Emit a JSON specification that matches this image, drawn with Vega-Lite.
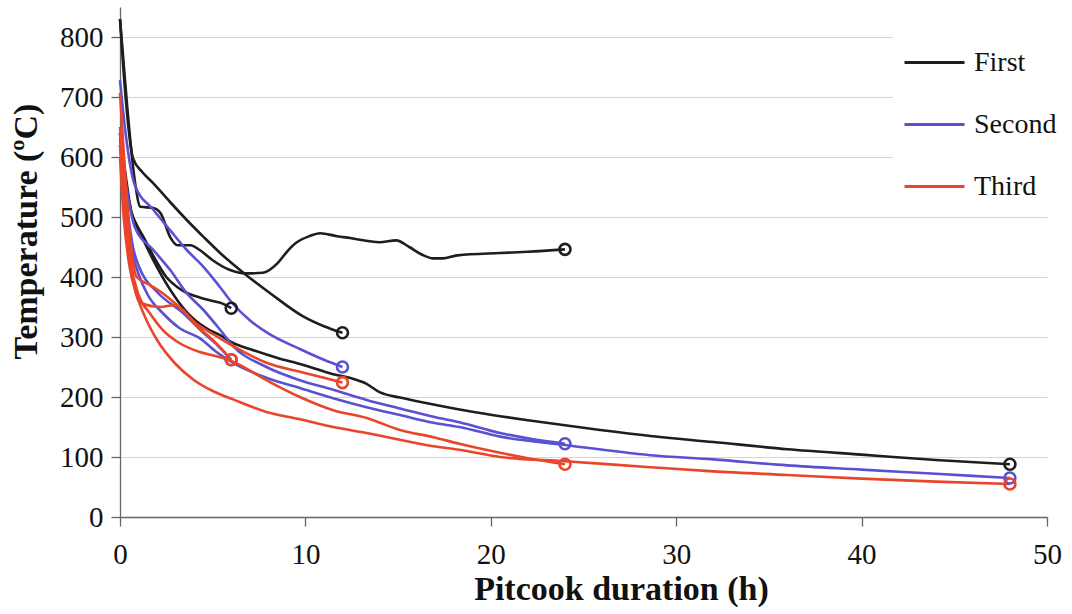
{
  "$schema": "https://vega.github.io/schema/vega-lite/v6.json",
  "autosize": "none",
  "width": 927,
  "height": 510,
  "padding": {"left": 120, "top": 7, "right": 25, "bottom": 97},
  "background": "white",
  "config": {
    "view": {"stroke": null},
    "font": "Liberation Serif",
    "axis": {
      "labelFont": "Liberation Serif",
      "titleFont": "Liberation Serif",
      "labelFontSize": 29,
      "titleFontSize": 34,
      "titleFontWeight": "bold",
      "labelColor": "#111",
      "titleColor": "#111",
      "domainColor": "#666",
      "tickColor": "#666",
      "domainWidth": 1.3,
      "tickWidth": 1.3
    }
  },
  "data": {
    "values": [
      {"series":"First","run":"F6","hours":0,"temp":640},
      {"series":"First","run":"F6","hours":0.3,"temp":560},
      {"series":"First","run":"F6","hours":0.6,"temp":510},
      {"series":"First","run":"F6","hours":0.9,"temp":487},
      {"series":"First","run":"F6","hours":1.3,"temp":465},
      {"series":"First","run":"F6","hours":1.8,"temp":435},
      {"series":"First","run":"F6","hours":2.5,"temp":400},
      {"series":"First","run":"F6","hours":3.1,"temp":383},
      {"series":"First","run":"F6","hours":3.7,"temp":372},
      {"series":"First","run":"F6","hours":4.3,"temp":366},
      {"series":"First","run":"F6","hours":5,"temp":360},
      {"series":"First","run":"F6","hours":5.5,"temp":356},
      {"series":"First","run":"F6","hours":6,"temp":348},

      {"series":"First","run":"F12","hours":0,"temp":830},
      {"series":"First","run":"F12","hours":0.3,"temp":700},
      {"series":"First","run":"F12","hours":0.7,"temp":598},
      {"series":"First","run":"F12","hours":1.2,"temp":575},
      {"series":"First","run":"F12","hours":1.8,"temp":556},
      {"series":"First","run":"F12","hours":2.7,"temp":525},
      {"series":"First","run":"F12","hours":3.6,"temp":495},
      {"series":"First","run":"F12","hours":4.5,"temp":467},
      {"series":"First","run":"F12","hours":5.4,"temp":440},
      {"series":"First","run":"F12","hours":6.7,"temp":406},
      {"series":"First","run":"F12","hours":8.1,"temp":373},
      {"series":"First","run":"F12","hours":9.9,"temp":334},
      {"series":"First","run":"F12","hours":11,"temp":318},
      {"series":"First","run":"F12","hours":12,"temp":307},

      {"series":"First","run":"F24","hours":0,"temp":830},
      {"series":"First","run":"F24","hours":0.4,"temp":680},
      {"series":"First","run":"F24","hours":0.8,"temp":560},
      {"series":"First","run":"F24","hours":1.1,"temp":517},
      {"series":"First","run":"F24","hours":1.8,"temp":515},
      {"series":"First","run":"F24","hours":2.2,"temp":506},
      {"series":"First","run":"F24","hours":2.7,"temp":467},
      {"series":"First","run":"F24","hours":3.1,"temp":453},
      {"series":"First","run":"F24","hours":3.8,"temp":453},
      {"series":"First","run":"F24","hours":4.3,"temp":445},
      {"series":"First","run":"F24","hours":5,"temp":428},
      {"series":"First","run":"F24","hours":5.9,"temp":412},
      {"series":"First","run":"F24","hours":6.8,"temp":406},
      {"series":"First","run":"F24","hours":7.7,"temp":407},
      {"series":"First","run":"F24","hours":8.5,"temp":423},
      {"series":"First","run":"F24","hours":9,"temp":442},
      {"series":"First","run":"F24","hours":9.5,"temp":457},
      {"series":"First","run":"F24","hours":10.2,"temp":468},
      {"series":"First","run":"F24","hours":10.8,"temp":473},
      {"series":"First","run":"F24","hours":11.7,"temp":468},
      {"series":"First","run":"F24","hours":12.4,"temp":465},
      {"series":"First","run":"F24","hours":14,"temp":458},
      {"series":"First","run":"F24","hours":14.9,"temp":461},
      {"series":"First","run":"F24","hours":15.6,"temp":450},
      {"series":"First","run":"F24","hours":16.3,"temp":437},
      {"series":"First","run":"F24","hours":16.9,"temp":431},
      {"series":"First","run":"F24","hours":17.4,"temp":431},
      {"series":"First","run":"F24","hours":18.2,"temp":436},
      {"series":"First","run":"F24","hours":20.5,"temp":440},
      {"series":"First","run":"F24","hours":22,"temp":442},
      {"series":"First","run":"F24","hours":24,"temp":446},

      {"series":"First","run":"F48","hours":0,"temp":640},
      {"series":"First","run":"F48","hours":0.3,"temp":570},
      {"series":"First","run":"F48","hours":0.6,"temp":510},
      {"series":"First","run":"F48","hours":1.1,"temp":473},
      {"series":"First","run":"F48","hours":2,"temp":416},
      {"series":"First","run":"F48","hours":3.1,"temp":361},
      {"series":"First","run":"F48","hours":3.9,"temp":332},
      {"series":"First","run":"F48","hours":4.8,"temp":312},
      {"series":"First","run":"F48","hours":5.4,"temp":303},
      {"series":"First","run":"F48","hours":6.1,"temp":290},
      {"series":"First","run":"F48","hours":7,"temp":280},
      {"series":"First","run":"F48","hours":8.5,"temp":265},
      {"series":"First","run":"F48","hours":9.7,"temp":255},
      {"series":"First","run":"F48","hours":11.5,"temp":238},
      {"series":"First","run":"F48","hours":12.6,"temp":230},
      {"series":"First","run":"F48","hours":13.3,"temp":222},
      {"series":"First","run":"F48","hours":14,"temp":208},
      {"series":"First","run":"F48","hours":15.1,"temp":199},
      {"series":"First","run":"F48","hours":16.5,"temp":190},
      {"series":"First","run":"F48","hours":18.7,"temp":177},
      {"series":"First","run":"F48","hours":20.5,"temp":168},
      {"series":"First","run":"F48","hours":22.3,"temp":160},
      {"series":"First","run":"F48","hours":25.9,"temp":145},
      {"series":"First","run":"F48","hours":28.6,"temp":135},
      {"series":"First","run":"F48","hours":32,"temp":125},
      {"series":"First","run":"F48","hours":36,"temp":113},
      {"series":"First","run":"F48","hours":40,"temp":104},
      {"series":"First","run":"F48","hours":44,"temp":95},
      {"series":"First","run":"F48","hours":48,"temp":88},

      {"series":"Second","run":"S6","hours":0,"temp":640},
      {"series":"Second","run":"S6","hours":0.3,"temp":540},
      {"series":"Second","run":"S6","hours":0.7,"temp":450},
      {"series":"Second","run":"S6","hours":1.1,"temp":412},
      {"series":"Second","run":"S6","hours":2,"temp":375},
      {"series":"Second","run":"S6","hours":3.4,"temp":340},
      {"series":"Second","run":"S6","hours":4.5,"temp":307},
      {"series":"Second","run":"S6","hours":5.3,"temp":285},
      {"series":"Second","run":"S6","hours":6,"temp":262},

      {"series":"Second","run":"S12","hours":0,"temp":728},
      {"series":"Second","run":"S12","hours":0.3,"temp":640},
      {"series":"Second","run":"S12","hours":0.8,"temp":553},
      {"series":"Second","run":"S12","hours":1.8,"temp":512},
      {"series":"Second","run":"S12","hours":2.7,"temp":478},
      {"series":"Second","run":"S12","hours":3.6,"temp":445},
      {"series":"Second","run":"S12","hours":4.5,"temp":417},
      {"series":"Second","run":"S12","hours":5.4,"temp":383},
      {"series":"Second","run":"S12","hours":6.1,"temp":355},
      {"series":"Second","run":"S12","hours":7,"temp":328},
      {"series":"Second","run":"S12","hours":8,"temp":306},
      {"series":"Second","run":"S12","hours":9.7,"temp":280},
      {"series":"Second","run":"S12","hours":11,"temp":262},
      {"series":"Second","run":"S12","hours":12,"temp":250},

      {"series":"Second","run":"S24","hours":0,"temp":630},
      {"series":"Second","run":"S24","hours":0.3,"temp":560},
      {"series":"Second","run":"S24","hours":0.8,"temp":483},
      {"series":"Second","run":"S24","hours":1.8,"temp":445},
      {"series":"Second","run":"S24","hours":2.7,"temp":412},
      {"series":"Second","run":"S24","hours":3.6,"temp":373},
      {"series":"Second","run":"S24","hours":4.5,"temp":345},
      {"series":"Second","run":"S24","hours":5.4,"temp":312},
      {"series":"Second","run":"S24","hours":6.1,"temp":285},
      {"series":"Second","run":"S24","hours":7.9,"temp":250},
      {"series":"Second","run":"S24","hours":9.7,"temp":228},
      {"series":"Second","run":"S24","hours":11.5,"temp":212},
      {"series":"Second","run":"S24","hours":13.3,"temp":195},
      {"series":"Second","run":"S24","hours":15.1,"temp":181},
      {"series":"Second","run":"S24","hours":16.9,"temp":167},
      {"series":"Second","run":"S24","hours":18.3,"temp":158},
      {"series":"Second","run":"S24","hours":20.5,"temp":140},
      {"series":"Second","run":"S24","hours":22,"temp":131},
      {"series":"Second","run":"S24","hours":24,"temp":122},

      {"series":"Second","run":"S48","hours":0,"temp":620},
      {"series":"Second","run":"S48","hours":0.3,"temp":520},
      {"series":"Second","run":"S48","hours":0.6,"temp":450},
      {"series":"Second","run":"S48","hours":1,"temp":405},
      {"series":"Second","run":"S48","hours":1.5,"temp":370},
      {"series":"Second","run":"S48","hours":2.3,"temp":340},
      {"series":"Second","run":"S48","hours":3.2,"temp":315},
      {"series":"Second","run":"S48","hours":4.3,"temp":298},
      {"series":"Second","run":"S48","hours":5.2,"temp":275},
      {"series":"Second","run":"S48","hours":6.1,"temp":257},
      {"series":"Second","run":"S48","hours":7.9,"temp":232},
      {"series":"Second","run":"S48","hours":9.7,"temp":215},
      {"series":"Second","run":"S48","hours":11.5,"temp":198},
      {"series":"Second","run":"S48","hours":13.3,"temp":183},
      {"series":"Second","run":"S48","hours":15.1,"temp":170},
      {"series":"Second","run":"S48","hours":16.9,"temp":157},
      {"series":"Second","run":"S48","hours":18.3,"temp":150},
      {"series":"Second","run":"S48","hours":20.5,"temp":134},
      {"series":"Second","run":"S48","hours":24,"temp":120},
      {"series":"Second","run":"S48","hours":28.6,"temp":103},
      {"series":"Second","run":"S48","hours":32,"temp":96},
      {"series":"Second","run":"S48","hours":36,"temp":86},
      {"series":"Second","run":"S48","hours":40,"temp":79},
      {"series":"Second","run":"S48","hours":44,"temp":72},
      {"series":"Second","run":"S48","hours":48,"temp":65},

      {"series":"Third","run":"T6","hours":0,"temp":650},
      {"series":"Third","run":"T6","hours":0.3,"temp":520},
      {"series":"Third","run":"T6","hours":0.6,"temp":420},
      {"series":"Third","run":"T6","hours":1.1,"temp":357},
      {"series":"Third","run":"T6","hours":2.2,"temp":350},
      {"series":"Third","run":"T6","hours":2.9,"temp":353},
      {"series":"Third","run":"T6","hours":3.4,"temp":345},
      {"series":"Third","run":"T6","hours":4,"temp":323},
      {"series":"Third","run":"T6","hours":5,"temp":295},
      {"series":"Third","run":"T6","hours":6,"temp":262},

      {"series":"Third","run":"T12","hours":0,"temp":707},
      {"series":"Third","run":"T12","hours":0.3,"temp":560},
      {"series":"Third","run":"T12","hours":0.6,"temp":450},
      {"series":"Third","run":"T12","hours":0.9,"temp":400},
      {"series":"Third","run":"T12","hours":1.6,"temp":387},
      {"series":"Third","run":"T12","hours":2.3,"temp":373},
      {"series":"Third","run":"T12","hours":3.2,"temp":350},
      {"series":"Third","run":"T12","hours":4.1,"temp":323},
      {"series":"Third","run":"T12","hours":5,"temp":305},
      {"series":"Third","run":"T12","hours":6.1,"temp":285},
      {"series":"Third","run":"T12","hours":7.9,"temp":257},
      {"series":"Third","run":"T12","hours":9.7,"temp":242},
      {"series":"Third","run":"T12","hours":11,"temp":232},
      {"series":"Third","run":"T12","hours":12,"temp":224},

      {"series":"Third","run":"T24","hours":0,"temp":620},
      {"series":"Third","run":"T24","hours":0.3,"temp":500},
      {"series":"Third","run":"T24","hours":0.6,"temp":420},
      {"series":"Third","run":"T24","hours":1,"temp":370},
      {"series":"Third","run":"T24","hours":1.6,"temp":340},
      {"series":"Third","run":"T24","hours":2.3,"temp":312},
      {"series":"Third","run":"T24","hours":3.2,"temp":290},
      {"series":"Third","run":"T24","hours":4.3,"temp":275},
      {"series":"Third","run":"T24","hours":5.2,"temp":268},
      {"series":"Third","run":"T24","hours":6,"temp":260},
      {"series":"Third","run":"T24","hours":7.9,"temp":228},
      {"series":"Third","run":"T24","hours":9.7,"temp":200},
      {"series":"Third","run":"T24","hours":11.5,"temp":178},
      {"series":"Third","run":"T24","hours":13.3,"temp":165},
      {"series":"Third","run":"T24","hours":15.1,"temp":145},
      {"series":"Third","run":"T24","hours":16.9,"temp":133},
      {"series":"Third","run":"T24","hours":18.3,"temp":122},
      {"series":"Third","run":"T24","hours":20.5,"temp":107},
      {"series":"Third","run":"T24","hours":22,"temp":98},
      {"series":"Third","run":"T24","hours":24,"temp":88},

      {"series":"Third","run":"T48","hours":0,"temp":600},
      {"series":"Third","run":"T48","hours":0.2,"temp":500},
      {"series":"Third","run":"T48","hours":0.5,"temp":420},
      {"series":"Third","run":"T48","hours":0.9,"temp":370},
      {"series":"Third","run":"T48","hours":1.4,"temp":330},
      {"series":"Third","run":"T48","hours":2,"temp":295},
      {"series":"Third","run":"T48","hours":3,"temp":255},
      {"series":"Third","run":"T48","hours":4,"temp":228},
      {"series":"Third","run":"T48","hours":5,"temp":210},
      {"series":"Third","run":"T48","hours":6.1,"temp":196},
      {"series":"Third","run":"T48","hours":7.9,"temp":175},
      {"series":"Third","run":"T48","hours":9.7,"temp":163},
      {"series":"Third","run":"T48","hours":11.5,"temp":150},
      {"series":"Third","run":"T48","hours":13.3,"temp":140},
      {"series":"Third","run":"T48","hours":16.9,"temp":118},
      {"series":"Third","run":"T48","hours":18.3,"temp":112},
      {"series":"Third","run":"T48","hours":20.5,"temp":100},
      {"series":"Third","run":"T48","hours":24,"temp":93},
      {"series":"Third","run":"T48","hours":28.6,"temp":83},
      {"series":"Third","run":"T48","hours":32,"temp":76},
      {"series":"Third","run":"T48","hours":36,"temp":70},
      {"series":"Third","run":"T48","hours":40,"temp":64},
      {"series":"Third","run":"T48","hours":44,"temp":59},
      {"series":"Third","run":"T48","hours":48,"temp":55}
    ]
  },
  "encoding": {
    "x": {
      "field": "hours",
      "type": "quantitative",
      "title": "Pitcook duration (h)",
      "scale": {"domain": [0, 50], "nice": false, "zero": false},
      "axis": {"values": [0, 10, 20, 30, 40, 50], "grid": false, "tickSize": 9, "labelPadding": 14, "titlePadding": 3, "titleFontSize": 34, "titleX": 501, "labelFlush": false}
    },
    "y": {
      "field": "temp",
      "type": "quantitative",
      "title": "Temperature (ºC)",
      "scale": {"domain": [0, 850], "nice": false},
      "axis": {"values": [0, 100, 200, 300, 400, 500, 600, 700, 800], "grid": true, "gridColor": "#d4d4d4", "gridWidth": 1, "tickSize": 9, "labelPadding": 8, "titlePadding": 16, "titleY": 224}
    },
    "color": {
      "field": "series",
      "type": "nominal",
      "scale": {"domain": ["First", "Second", "Third"], "range": ["#1e1e1e", "#5a50d2", "#ea4529"]},
      "legend": {
        "title": null,
        "orient": "none",
        "legendX": 773,
        "legendY": 14,
        "fillColor": "white",
        "padding": 10,
        "symbolType": "stroke",
        "symbolSize": 3600,
        "symbolStrokeWidth": 3,
        "labelFont": "Liberation Serif",
        "labelFontSize": 28,
        "labelColor": "#111",
        "labelOffset": 8,
        "rowPadding": 16
      }
    }
  },
  "layer": [
    {
      "mark": {"type": "line", "interpolate": "monotone", "strokeWidth": 2.6},
      "encoding": {"detail": {"field": "run"}}
    },
    {
      "transform": [
        {"joinaggregate": [{"op": "max", "field": "hours", "as": "endh"}], "groupby": ["run"]},
        {"filter": "datum.hours === datum.endh"}
      ],
      "mark": {"type": "point", "shape": "circle", "filled": false, "size": 120, "strokeWidth": 2.6, "opacity": 1},
      "encoding": {"detail": {"field": "run"}}
    }
  ]
}
